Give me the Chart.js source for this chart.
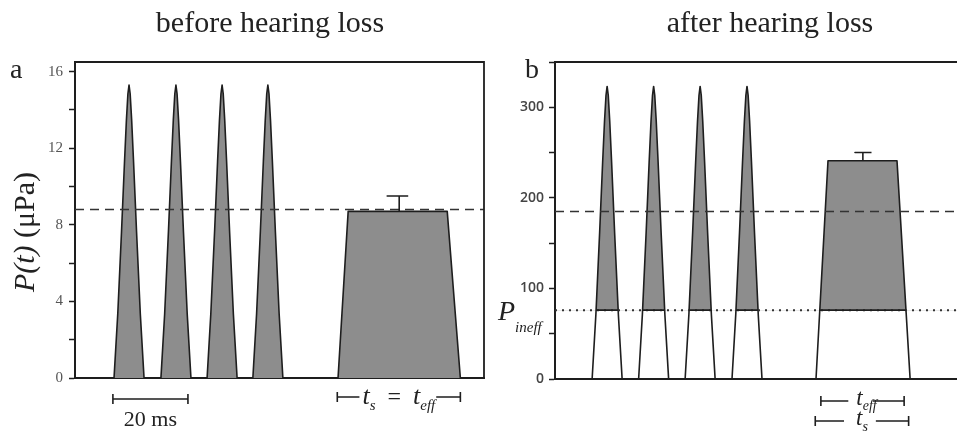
<!DOCTYPE html>
<html>
<head>
<meta charset="utf-8">
<script src="https://cdn.jsdelivr.net/npm/chart.js@4/dist/chart.umd.min.js"></script>
<style>
html, body { margin: 0; padding: 0; background: #fff; overflow: hidden; }
#wrap { position: relative; width: 957px; height: 437px; overflow: hidden; background: #fff; }
canvas { position: absolute; top: 0; }
#before { left: 0; }
#after { left: 488px; }
</style>
</head>
<body>
<div id="wrap">
  <canvas id="before" width="488" height="437"></canvas>
  <canvas id="after" width="472" height="437"></canvas>
</div>
<script>
// pulse template: ms from onset, fraction of the peak
const PULSE_T = [0, 1, 2, 2.8, 3.3, 3.7, 4, 4.3, 4.7, 5.2, 6, 7, 8];
const PULSE_F = [0, 0.22, 0.5, 0.74, 0.88, 0.97, 1, 0.97, 0.88, 0.74, 0.5, 0.22, 0];

// a: before hearing loss (µPa, ms)
const onsetsA = [10.4, 22.9, 35.2, 47.4];
const peakA = 15.3;
const trapTA = [70.1, 72.8, 99.2, 102.7];
const trapYA = [0, 8.7, 8.7, 0];
const errXA = 86.4, errLoA = 8.7, errHiA = 9.5;
const errCapA = [83.2, 88.8];
const levelA = 8.8;
const scaleBarA = [10.1, 30.1];
const tBarA = [69.9, 102.7];

// b: after hearing loss
const onsetsB = [9.9, 22.3, 34.7, 47.2];
const peakB = 323;
const trapTB = [69.6, 72.8, 91.2, 94.7];
const trapYB = [0, 241, 241, 0];
const errXB = 82.1, errLoB = 241, errHiB = 250;
const errCapB = [80.0, 84.4];
const levelB = 185;
const pIneff = 76;
const tEffBarB = [70.9, 93.1];
const tSBarB = [69.4, 94.3];

const X_MAX_A = 109, X_MAX_B = 108;
const Y_MAX_A = 16.5, Y_MAX_B = 350;

const INK = '#1e1e1e';
const GRAY = '#8d8d8d';
const SERIF = '"Liberation Serif", "Times New Roman", serif';

function waveform(onsets, peak, trapT, trapY, xMax) {
    const pts = [{x: 0, y: 0}];
    onsets.forEach(t0 => {
        PULSE_T.forEach((t, i) => pts.push({x: t0 + t, y: peak * PULSE_F[i]}));
    });
    trapT.forEach((t, i) => pts.push({x: t, y: trapY[i]}));
    pts.push({x: xMax, y: 0});
    return pts;
}

function drawRuns(ctx, runs, x, y, align){
    let w = 0;
    runs.forEach(r => { ctx.font = r.font; w += ctx.measureText(r.text).width; });
    let cx = align === 'center' ? x - w / 2 : x;
    const left = cx;
    ctx.textAlign = 'left';
    ctx.textBaseline = 'alphabetic';
    runs.forEach(r => {
        ctx.font = r.font;
        ctx.fillText(r.text, cx, y + (r.dy || 0));
        cx += ctx.measureText(r.text).width;
    });
    return [left, cx];
}

// bar with end caps and a gap for the label
function bracket(ctx, x0, x1, y, gap, cap){
    ctx.beginPath();
    ctx.moveTo(x0, y - cap); ctx.lineTo(x0, y + cap);
    ctx.moveTo(x1, y - cap); ctx.lineTo(x1, y + cap);
    if (gap) {
        ctx.moveTo(x0, y); ctx.lineTo(gap[0], y);
        ctx.moveTo(gap[1], y); ctx.lineTo(x1, y);
    } else {
        ctx.moveTo(x0, y); ctx.lineTo(x1, y);
    }
    ctx.stroke();
}

function frame(chart, withRight){
    const {ctx, chartArea: a} = chart;
    ctx.save();
    ctx.strokeStyle = INK;
    ctx.lineWidth = 1.8;
    ctx.beginPath();
    ctx.moveTo(a.left - 1, a.top);
    ctx.lineTo(a.right, a.top);
    if (withRight) ctx.lineTo(a.right, a.bottom + 1);
    ctx.stroke();
    ctx.restore();
}

const notesA = {
    id: 'notesA',
    afterDraw(chart){
        const ctx = chart.ctx;
        const xs = chart.scales.x;
        frame(chart, true);
        ctx.save();
        ctx.fillStyle = '#222';
        ctx.strokeStyle = INK;
        ctx.lineWidth = 1.6;
        drawRuns(ctx, [{text: 'before hearing loss', font: '30px ' + SERIF}], 270, 32, 'center');
        drawRuns(ctx, [{text: 'a', font: '28px ' + SERIF}], 10, 78, 'left');

        // y title, rotated
        ctx.save();
        ctx.translate(34, 232);
        ctx.rotate(-Math.PI / 2);
        drawRuns(ctx, [
            {text: 'P(t)', font: 'italic 30px ' + SERIF},
            {text: ' (\u03bcPa)', font: '30px ' + SERIF}
        ], 0, 0, 'center');
        ctx.restore();

        // 20 ms scale bar
        bracket(ctx, xs.getPixelForValue(scaleBarA[0]), xs.getPixelForValue(scaleBarA[1]), 399, null, 5);
        drawRuns(ctx, [{text: '20 ms', font: '22px ' + SERIF}],
            (xs.getPixelForValue(scaleBarA[0]) + xs.getPixelForValue(scaleBarA[1])) / 2, 426, 'center');

        // t_s = t_eff
        const bx0 = xs.getPixelForValue(tBarA[0]), bx1 = xs.getPixelForValue(tBarA[1]);
        const span = drawRuns(ctx, [
            {text: 't', font: 'italic 26px ' + SERIF},
            {text: 's', font: 'italic 15px ' + SERIF, dy: 6},
            {text: '  =  ', font: '24px ' + SERIF},
            {text: 't', font: 'italic 26px ' + SERIF},
            {text: 'eff', font: 'italic 15px ' + SERIF, dy: 6}
        ], (bx0 + bx1) / 2, 404, 'center');
        bracket(ctx, bx0, bx1, 397, [span[0] - 3, span[1] + 1], 5);
        ctx.restore();
    }
};

const notesB = {
    id: 'notesB',
    afterDatasetsDraw(chart){
        // solid edge at P_ineff inside the stimulus outlines
        const ctx = chart.ctx;
        const pts = chart.getDatasetMeta(0).data;
        const y = chart.scales.y.getPixelForValue(pIneff);
        ctx.save();
        ctx.beginPath();
        ctx.moveTo(pts[0].x, pts[0].y);
        pts.forEach(p => ctx.lineTo(p.x, p.y));
        ctx.closePath();
        ctx.clip();
        ctx.beginPath();
        ctx.moveTo(chart.chartArea.left, y);
        ctx.lineTo(chart.chartArea.right, y);
        ctx.lineWidth = 1.6;
        ctx.strokeStyle = INK;
        ctx.stroke();
        ctx.restore();
    },
    afterDraw(chart){
        const ctx = chart.ctx;
        const xs = chart.scales.x;
        frame(chart, false);
        ctx.save();
        ctx.fillStyle = '#222';
        ctx.strokeStyle = INK;
        ctx.lineWidth = 1.6;
        drawRuns(ctx, [{text: 'after hearing loss', font: '30px ' + SERIF}], 282, 32, 'center');
        drawRuns(ctx, [{text: 'b', font: '28px ' + SERIF}], 37, 78, 'left');
        drawRuns(ctx, [
            {text: 'P', font: 'italic 28px ' + SERIF},
            {text: 'ineff', font: 'italic 15px ' + SERIF, dy: 12}
        ], 10, 320, 'left');

        const e0 = xs.getPixelForValue(tEffBarB[0]), e1 = xs.getPixelForValue(tEffBarB[1]);
        const s1 = drawRuns(ctx, [
            {text: 't', font: 'italic 23px ' + SERIF},
            {text: 'eff', font: 'italic 14px ' + SERIF, dy: 5}
        ], (e0 + e1) / 2 + 4, 405, 'center');
        bracket(ctx, e0, e1, 401, [s1[0] - 8, s1[1] - 4], 5);

        const t0 = xs.getPixelForValue(tSBarB[0]), t1 = xs.getPixelForValue(tSBarB[1]);
        const s2 = drawRuns(ctx, [
            {text: 't', font: 'italic 23px ' + SERIF},
            {text: 's', font: 'italic 14px ' + SERIF, dy: 6}
        ], (t0 + t1) / 2, 425, 'center');
        bracket(ctx, t0, t1, 421, [s2[0] - 12, s2[1] + 8], 5);
        ctx.restore();
    }
};

function lineSet(data, extra){
    return Object.assign({
        data: data,
        borderColor: INK,
        borderWidth: 1.6,
        pointRadius: 0,
        tension: 0,
        fill: false,
        borderJoinStyle: 'round'
    }, extra);
}

function options(xMax, yMax, step, major, tickFont, tickColor, pad, yWidth, xHeight, padRight){
    return {
        responsive: false,
        animation: false,
        devicePixelRatio: 1,
        layout: {padding: {top: 62, right: padRight, left: 0, bottom: 0}},
        plugins: {legend: {display: false}, tooltip: {enabled: false}},
        scales: {
            x: {
                type: 'linear', min: 0, max: xMax,
                ticks: {display: false},
                grid: {display: false},
                border: {display: true, color: INK, width: 2},
                afterFit: s => { s.height = xHeight; }
            },
            y: {
                min: 0, max: yMax,
                ticks: {
                    stepSize: step,
                    includeBounds: false,
                    autoSkip: false,
                    padding: pad,
                    color: tickColor,
                    font: tickFont,
                    callback: v => (v % major === 0 ? String(v) : '')
                },
                grid: {drawOnChartArea: false, drawTicks: true, tickLength: 6, tickWidth: 1.5, tickColor: INK},
                border: {display: true, color: INK, width: 2},
                afterFit: s => { s.width = yWidth; }
            }
        }
    };
}

new Chart(document.getElementById('before'), {
    type: 'line',
    data: {
        datasets: [
            lineSet(waveform(onsetsA, peakA, trapTA, trapYA, X_MAX_A), {fill: 'origin', backgroundColor: GRAY, order: 2}),
            lineSet([{x: 0, y: levelA}, {x: X_MAX_A, y: levelA}], {borderDash: [9, 6], borderColor: '#333', borderWidth: 1.5, order: 1}),
            lineSet([{x: errXA, y: errLoA}, {x: errXA, y: errHiA}, {x: errCapA[0], y: errHiA}, {x: errCapA[1], y: errHiA}], {order: 0})
        ]
    },
    options: options(X_MAX_A, Y_MAX_A, 2, 4, {family: SERIF, size: 15}, '#555', 6, 75, 59, 4),
    plugins: [notesA]
});

new Chart(document.getElementById('after'), {
    type: 'line',
    data: {
        datasets: [
            lineSet(waveform(onsetsB, peakB, trapTB, trapYB, X_MAX_B), {
                fill: {target: {value: pIneff}, above: GRAY, below: 'rgba(0,0,0,0)'},
                backgroundColor: GRAY, order: 2
            }),
            lineSet([{x: 0, y: levelB}, {x: X_MAX_B, y: levelB}], {borderDash: [9, 6], borderColor: '#333', borderWidth: 1.5, order: 1}),
            lineSet([{x: 0, y: pIneff}, {x: X_MAX_B, y: pIneff}], {borderDash: [2, 5], borderColor: '#333', borderWidth: 2, order: 1}),
            lineSet([{x: errXB, y: errLoB}, {x: errXB, y: errHiB}, {x: errCapB[0], y: errHiB}, {x: errCapB[1], y: errHiB}], {order: 0})
        ]
    },
    options: options(X_MAX_B, Y_MAX_B, 50, 100, {family: '"Open Sans", sans-serif', size: 14, weight: '600'}, '#444', 5, 67, 58, 0),
    plugins: [notesB]
});
</script>
</body>
</html>
